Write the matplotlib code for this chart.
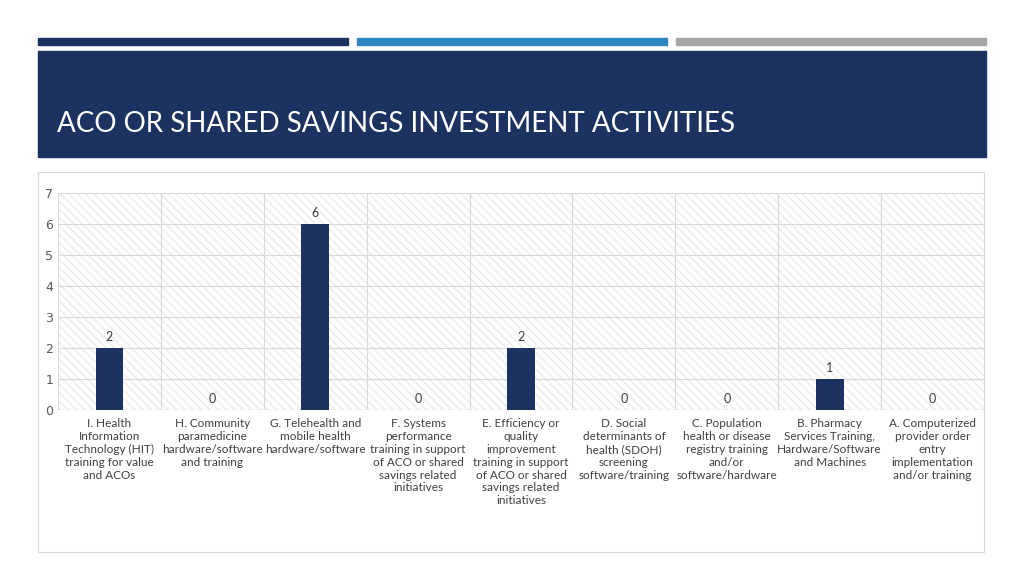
import matplotlib.pyplot as plt
from matplotlib.patches import Rectangle

categories = [
    "I. Health\nInformation\nTechnology (HIT)\ntraining for value\nand ACOs",
    "H. Community\nparamedicine\nhardware/software\nand training",
    "G. Telehealth and\nmobile health\nhardware/software",
    "F. Systems\nperformance\ntraining in support\nof ACO or shared\nsavings related\ninitiatives",
    "E. Efficiency or\nquality\nimprovement\ntraining in support\nof ACO or shared\nsavings related\ninitiatives",
    "D. Social\ndeterminants of\nhealth (SDOH)\nscreening\nsoftware/training",
    "C. Population\nhealth or disease\nregistry training\nand/or\nsoftware/hardware",
    "B. Pharmacy\nServices Training,\nHardware/Software\nand Machines",
    "A. Computerized\nprovider order\nentry\nimplementation\nand/or training",
]
counts = [2, 0, 6, 0, 2, 0, 0, 1, 0]
navy = "#1c3261"
plt.rcParams["hatch.color"] = "#ececec"

fig = plt.figure(figsize=(10.24, 5.76), dpi=100)
W, H = 1024, 576

def box(x0, y0, x1, y1, **kw):
    fig.patches.append(Rectangle((x0 / W, 1 - y1 / H), (x1 - x0) / W, (y1 - y0) / H,
                                 transform=fig.transFigure, **kw))

# top stripes and title banner
box(38, 38, 348, 45, color=navy)
box(357, 38, 667, 45, color="#2e86c1")
box(676, 38, 986, 45, color="#a6a6a6")
box(38, 51, 986, 157, color=navy)
fig.text(57 / W, 1 - 124 / H, "ACO OR SHARED SAVINGS INVESTMENT ACTIVITIES",
         color="white", fontsize=20, va="center", ha="left", family="Lato")
# chart panel border (behind axes)
box(38, 172, 984, 552, facecolor="white", edgecolor="#d9d9d9", lw=0.8, zorder=-5)

ax = fig.add_axes([58 / W, 1 - 410 / H, 926 / W, 217 / H])
ax.set_zorder(2)
ax.patch.set_alpha(0)
ax.set_xlim(-0.5, len(categories) - 0.5)
ax.set_ylim(0, 7)
ax.add_patch(Rectangle((-0.5, 0), len(categories), 7, facecolor="white",
                       hatch="\\\\\\\\", edgecolor="#ececec", lw=0, zorder=0))
x = range(len(categories))
ax.bar(x, counts, width=0.27, color=navy, zorder=3)
for xi, v in zip(x, counts):
    ax.text(xi, v + 0.15, str(v), ha="center", va="bottom", fontsize=9,
            color="#404040", family="Lato")
ax.set_yticks(range(8))
ax.tick_params(axis="y", length=0, labelsize=9, labelcolor="#595959")
ax.set_xticks(x)
ax.set_xticklabels(categories, fontsize=8.5, color="#404040", family="Lato")
ax.tick_params(axis="x", length=0, pad=6)
ax.grid(axis="y", color="#d9d9d9", lw=0.8, zorder=1)
for b in range(len(categories) + 1):
    ax.axvline(b - 0.5, color="#d9d9d9", lw=0.8, zorder=1)
for s in ax.spines.values():
    s.set_visible(False)
ax.axhline(0, color="#d9d9d9", lw=1, zorder=2)

fig.savefig("out.png", dpi=100)
